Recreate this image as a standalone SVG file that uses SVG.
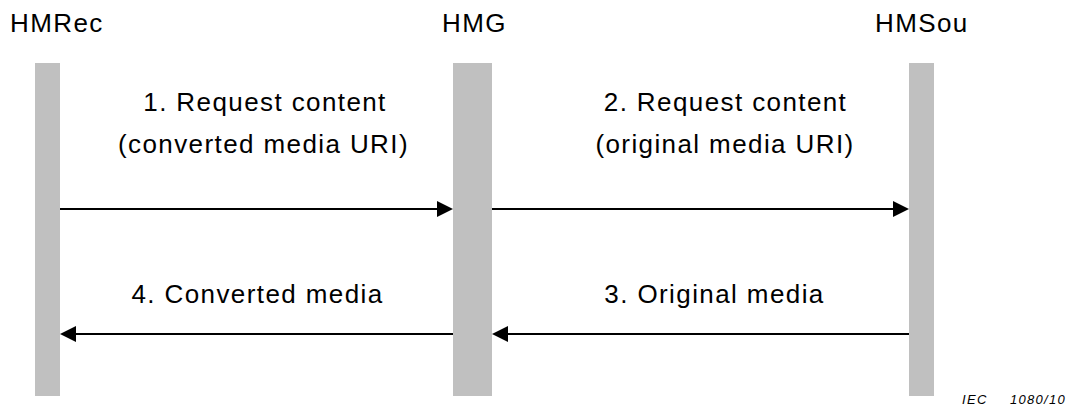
<svg xmlns="http://www.w3.org/2000/svg" width="1072" height="410" viewBox="0 0 1072 410">
<style>
  .t{font-family:"Liberation Sans",Arial,sans-serif;font-size:26px;letter-spacing:1.4px;fill:#000}
  .c{text-anchor:middle}
  .bar{fill:#c0c0c0}
  .ln{stroke:#000;stroke-width:2;fill:none}
  .ah{fill:#000}
  .n{font-family:"Liberation Sans",Arial,sans-serif;font-size:13px;font-style:italic;letter-spacing:1.3px;fill:#000}
</style>
<rect width="1072" height="410" fill="#fff"/>
<g id="hmrec">
  <rect class="bar" x="35" y="63" width="25" height="333"/>
  <text class="t" x="10" y="32">HMRec</text>
</g>
<g id="hmg">
  <rect class="bar" x="453" y="63" width="39" height="333"/>
  <text class="t" x="442" y="32">HMG</text>
</g>
<g id="hmsou">
  <rect class="bar" x="909" y="63" width="25" height="333"/>
  <text class="t" x="875" y="32">HMSou</text>
</g>
<g id="connectors">
  <line class="ln" x1="60" y1="209" x2="438" y2="209"/>
  <polygon class="ah" points="437,201 453,209 437,217"/>
  <line class="ln" x1="492" y1="209" x2="894" y2="209"/>
  <polygon class="ah" points="893,201 909,209 893,217"/>
  <line class="ln" x1="909" y1="334" x2="507" y2="334"/>
  <polygon class="ah" points="508,326 492,334 508,342"/>
  <line class="ln" x1="453" y1="334" x2="75" y2="334"/>
  <polygon class="ah" points="76,326 60,334 76,342"/>
  <text class="t c" x="265" y="111">1. Request content</text>
  <text class="t c" x="263.5" y="153">(converted media URI)</text>
  <text class="t c" x="725.5" y="111">2. Request content</text>
  <text class="t c" x="725" y="153">(original media URI)</text>
  <text class="t c" x="714.5" y="303">3. Original media</text>
  <text class="t c" x="257.5" y="303">4. Converted media</text>
</g>
<text class="n" y="404"><tspan x="962">IEC</tspan><tspan x="1010">1080/10</tspan></text>
</svg>
